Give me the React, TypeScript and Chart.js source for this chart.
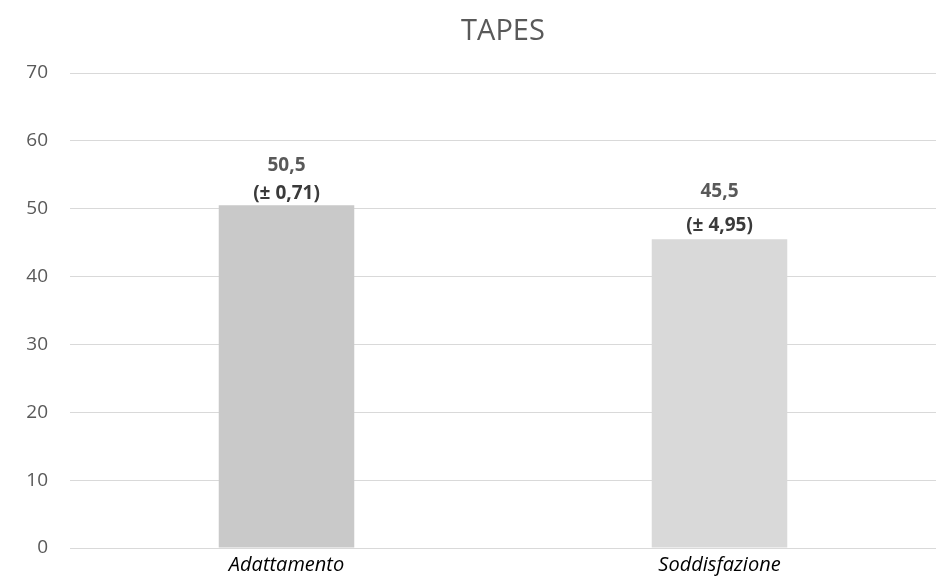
import React, { useEffect, useRef } from "react";
import { Chart, registerables } from "chart.js";

Chart.register(...registerables);

const chartTitle = "TAPES";
const categories = ["Adattamento", "Soddisfazione"];
const means = [50.5, 45.5];
const deviations = [0.71, 4.95];
const barColors = ["#c9c9c9", "#d9d9d9"];
// baseline offsets (px) above each bar top: lower line, and spacing to upper line
const baseGaps = [6, 8];
const lineGaps = [28, 34];

const FONT = "'Open Sans', 'Liberation Sans', sans-serif";
const fmt = (v: number, digits: number) => v.toFixed(digits).replace(".", ",");

const titleAndLabels = {
  id: "titleAndLabels",
  afterDatasetsDraw(chart: Chart) {
    const ctx = chart.ctx;
    const area = chart.chartArea;
    ctx.save();
    ctx.textAlign = "center";
    ctx.textBaseline = "alphabetic";

    // title centred over the plot area
    ctx.font = `29px ${FONT}`;
    ctx.fillStyle = "#595959";
    ctx.fillText(chartTitle, (area.left + area.right) / 2, 40);

    // value-axis tick labels, right-aligned left of the grid
    const yScale: any = chart.scales.y;
    ctx.font = `19px ${FONT}`;
    ctx.fillStyle = "#595959";
    ctx.textAlign = "right";
    ctx.textBaseline = "middle";
    yScale.ticks.forEach((t: any) => {
      ctx.fillText(String(t.value), area.left - 22, yScale.getPixelForValue(t.value));
    });

    // category names under the axis
    const xScale = chart.scales.x;
    ctx.font = `italic 20px ${FONT}`;
    ctx.fillStyle = "#000000";
    ctx.textAlign = "center";
    ctx.textBaseline = "alphabetic";
    categories.forEach((name, i) => {
      ctx.fillText(name, xScale.getPixelForValue(i), area.bottom + 23);
    });

    // mean and deviation above each bar
    ctx.font = `bold 19px ${FONT}`;
    const meta = chart.getDatasetMeta(0);
    meta.data.forEach((bar: any, i: number) => {
      const x = bar.x;
      const y2 = bar.y - baseGaps[i];
      const y1 = y2 - lineGaps[i];
      ctx.fillStyle = "#595959";
      ctx.fillText(fmt(means[i], 1), x, y1);
      ctx.fillStyle = "#3a3a3a";
      ctx.fillText("(\u00b1 " + fmt(deviations[i], 2) + ")", x, y2);
    });
    ctx.restore();
  },
};

export default function App() {
  const canvasRef = useRef<HTMLCanvasElement>(null);

  useEffect(() => {
    document.body.style.margin = "0";
    const chart = new Chart(canvasRef.current!, {
      type: "bar",
      data: {
        labels: categories,
        datasets: [
          {
            data: means,
            backgroundColor: barColors,
            categoryPercentage: 1,
            barPercentage: 0.313,
          },
        ],
      },
      options: {
        animation: false,
        responsive: false,
        maintainAspectRatio: false,
        layout: { padding: { left: 0, right: 4, top: 73, bottom: 28 } },
        plugins: {
          legend: { display: false },
          tooltip: { enabled: false },
          title: { display: false },
        },
        scales: {
          x: {
            grid: { display: false, drawTicks: false, tickLength: 0 },
            border: { display: false },
            ticks: { display: false },
          },
          y: {
            min: 0,
            max: 70,
            afterFit(scale: any) {
              scale.width = 70;
            },
            border: { display: false },
            grid: { color: "#d9d9d9", drawTicks: false, lineWidth: 1 },
            ticks: { stepSize: 10, display: false },
          },
        },
      },
      plugins: [titleAndLabels],
    });
    return () => chart.destroy();
  }, []);

  return (
    <div style={{ position: "relative", width: 940, height: 576, background: "#fff" }}>
      <canvas ref={canvasRef} width={940} height={576} />
    </div>
  );
}
